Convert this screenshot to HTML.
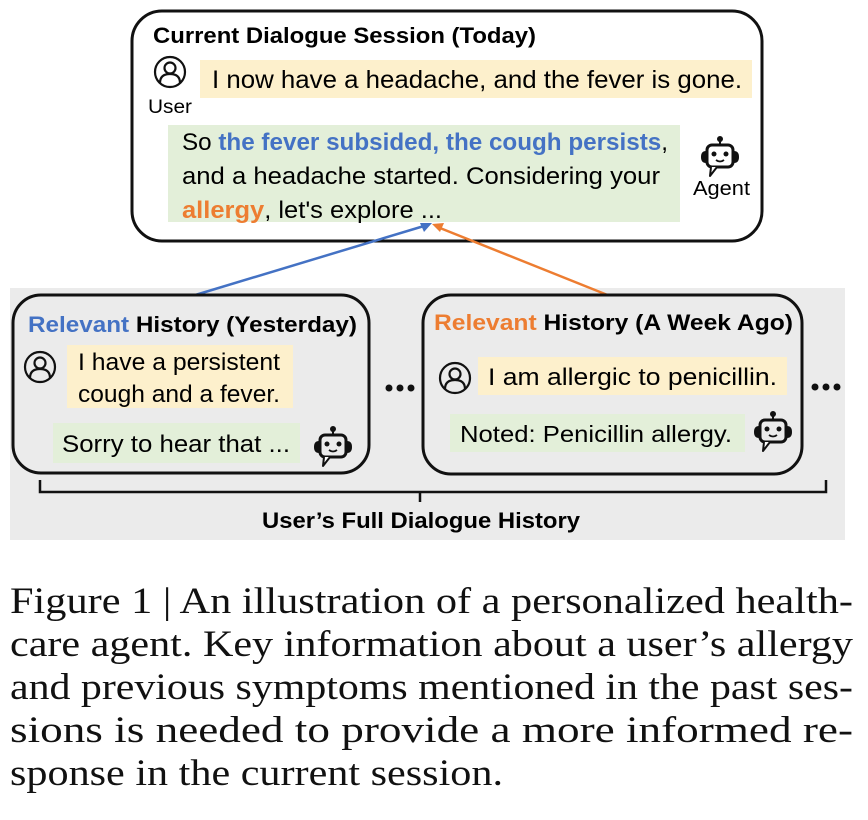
<!DOCTYPE html>
<html><head><meta charset="utf-8"><style>
html,body{margin:0;padding:0;background:#fff;}
svg{display:block;}
.s{font-family:"Liberation Sans",sans-serif;}
.b{font-weight:bold;}
.c{font-family:"Liberation Serif",serif;font-size:37px;fill:#111;}
</style></head><body>
<svg width="868" height="820" viewBox="0 0 868 820" xmlns="http://www.w3.org/2000/svg">
<defs>
<g id="robot">
  <circle cx="0" cy="-16" r="3" fill="#111"/>
  <line x1="0" y1="-14" x2="0" y2="-10" stroke="#111" stroke-width="2"/>
  <rect x="-13" y="-10" width="26" height="22" rx="5" fill="none" stroke="#111" stroke-width="3"/>
  <path d="M-14,-4 q-5,0 -5,6 q0,6 5,6 z M14,-4 q5,0 5,6 q0,6 -5,6 z" fill="#111"/>
  <circle cx="-6" cy="-1" r="2.5" fill="#111"/>
  <circle cx="6" cy="-1" r="2.5" fill="#111"/>
  <path d="M-4,5 q4,3 8,0" fill="none" stroke="#111" stroke-width="1.8"/>
  <path d="M-9,12 L-10,21 L-3,12" fill="#fff" stroke="#111" stroke-width="2" stroke-linejoin="round"/>
</g>
<g id="user">
  <circle cx="0" cy="0" r="15" fill="none" stroke="#111" stroke-width="2.2"/>
  <circle cx="0" cy="-4" r="5.5" fill="none" stroke="#111" stroke-width="2.2"/>
  <path d="M-10,11 q0,-9 10,-9 q10,0 10,9" fill="none" stroke="#111" stroke-width="2.2"/>
</g>
</defs>

<rect x="10" y="288" width="835" height="252" fill="#ebebeb"/>

<rect x="132" y="11" width="630" height="230" rx="30" fill="#fff" stroke="#111" stroke-width="3"/>
<text class="s b" x="153" y="43" font-size="22" textLength="383" lengthAdjust="spacingAndGlyphs">Current Dialogue Session (Today)</text>
<use href="#user" x="170" y="72"/>
<text class="s" x="148" y="113" font-size="19" textLength="44" lengthAdjust="spacingAndGlyphs">User</text>
<rect x="200" y="60" width="552" height="38" fill="#fdf0cc"/>
<text class="s" x="212" y="88" font-size="25" textLength="530" lengthAdjust="spacingAndGlyphs">I now have a headache, and the fever is gone.</text>
<rect x="168" y="125" width="512" height="97" fill="#e3efd9"/>
<text class="s" x="182" y="150" font-size="24" textLength="486" lengthAdjust="spacingAndGlyphs">So <tspan fill="#4472c4" font-weight="bold">the fever subsided, the cough persists</tspan>,</text>
<text class="s" x="182" y="184" font-size="24" textLength="478" lengthAdjust="spacingAndGlyphs">and a headache started. Considering your</text>
<text class="s" x="182" y="218" font-size="24" textLength="260" lengthAdjust="spacingAndGlyphs"><tspan fill="#ed7d31" font-weight="bold">allergy</tspan>, let's explore ...</text>
<use href="#robot" x="720" y="155"/>
<text class="s" x="693" y="195" font-size="20" textLength="57" lengthAdjust="spacingAndGlyphs">Agent</text>

<line x1="192" y1="296" x2="424" y2="226" stroke="#4472c4" stroke-width="2.5"/>
<path d="M432,223 L420,223 L424,232 Z" fill="#4472c4"/>
<line x1="610" y1="296" x2="440" y2="228" stroke="#ed7d31" stroke-width="2.5"/>
<path d="M432,224 L444,223 L440,232 Z" fill="#ed7d31"/>

<rect x="13" y="295" width="356" height="178" rx="28" fill="#ebebeb" stroke="#111" stroke-width="3"/>
<text class="s b" x="28" y="332" font-size="22" textLength="329" lengthAdjust="spacingAndGlyphs"><tspan fill="#4472c4">Relevant</tspan> History (Yesterday)</text>
<use href="#user" x="40" y="367"/>
<rect x="67" y="345" width="226" height="63" fill="#fdf0cc"/>
<text class="s" x="78" y="370" font-size="24" textLength="202" lengthAdjust="spacingAndGlyphs">I have a persistent</text>
<text class="s" x="78" y="402" font-size="24" textLength="202" lengthAdjust="spacingAndGlyphs">cough and a fever.</text>
<rect x="53" y="423" width="247" height="40" fill="#e3efd9"/>
<text class="s" x="62" y="452" font-size="24" textLength="228" lengthAdjust="spacingAndGlyphs">Sorry to hear that ...</text>
<use href="#robot" x="333" y="445"/>

<circle cx="389" cy="388" r="3.5" fill="#111"/><circle cx="400" cy="388" r="3.5" fill="#111"/><circle cx="411" cy="388" r="3.5" fill="#111"/>

<rect x="423" y="295" width="379" height="179" rx="28" fill="#ebebeb" stroke="#111" stroke-width="3"/>
<text class="s b" x="434" y="330" font-size="22" textLength="359" lengthAdjust="spacingAndGlyphs"><tspan fill="#ed7d31">Relevant</tspan> History (A Week Ago)</text>
<use href="#user" x="455" y="378"/>
<rect x="478" y="357" width="309" height="38" fill="#fdf0cc"/>
<text class="s" x="488" y="385" font-size="24" textLength="289" lengthAdjust="spacingAndGlyphs">I am allergic to penicillin.</text>
<rect x="450" y="414" width="295" height="38" fill="#e3efd9"/>
<text class="s" x="460" y="442" font-size="23" textLength="272" lengthAdjust="spacingAndGlyphs">Noted: Penicillin allergy.</text>
<use href="#robot" x="773" y="430"/>

<circle cx="815" cy="387" r="3.5" fill="#111"/><circle cx="826" cy="387" r="3.5" fill="#111"/><circle cx="837" cy="387" r="3.5" fill="#111"/>

<path d="M40,480 L40,492 L826,492 L826,480 M420,492 L420,502" fill="none" stroke="#111" stroke-width="2.5"/>
<text class="s b" x="262" y="528" font-size="22" textLength="318" lengthAdjust="spacingAndGlyphs">User’s Full Dialogue History</text>

<text class="c" x="10" y="613" textLength="843" lengthAdjust="spacingAndGlyphs">Figure 1 | An illustration of a personalized health-</text>
<text class="c" x="10" y="656" textLength="843" lengthAdjust="spacingAndGlyphs">care agent. Key information about a user’s allergy</text>
<text class="c" x="10" y="699" textLength="843" lengthAdjust="spacingAndGlyphs">and previous symptoms mentioned in the past ses-</text>
<text class="c" x="10" y="742" textLength="843" lengthAdjust="spacingAndGlyphs">sions is needed to provide a more informed re-</text>
<text class="c" x="10" y="785" textLength="493" lengthAdjust="spacingAndGlyphs">sponse in the current session.</text>
</svg>
</body></html>
